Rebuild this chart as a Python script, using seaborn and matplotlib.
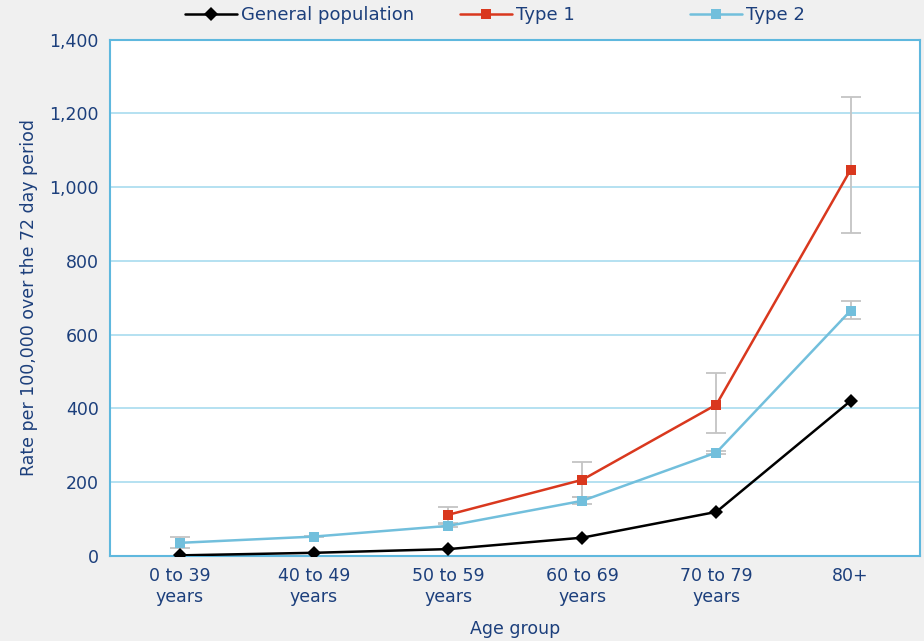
import numpy as np
import pandas as pd
import matplotlib
matplotlib.use("Agg")
import matplotlib.pyplot as plt
import seaborn as sns
from matplotlib.ticker import FuncFormatter
from matplotlib.lines import Line2D

age_groups = ["0 to 39\nyears", "40 to 49\nyears", "50 to 59\nyears",
              "60 to 69\nyears", "70 to 79\nyears", "80+"]
general = [1, 8, 18, 49, 119, 420]
type1 = [np.nan, np.nan, 111, 206, 410, 1047]
type1_low = [np.nan, np.nan, 90, 160, 334, 877]
type1_high = [np.nan, np.nan, 133, 253, 497, 1246]
type2 = [35, 52, 81, 149, 280, 665]
type2_low = [22, 50, 77, 140, 277, 643]
type2_high = [50, 54, 85, 160, 283, 690]

series_names = ["General population", "Type 1", "Type 2"]
colors = {"General population": "#000000", "Type 1": "#d9381e", "Type 2": "#72bfdc"}
markers = {"General population": "D", "Type 1": "s", "Type 2": "s"}
text_col = "#1c3f7c"
grid_col = "#a8dcef"

x = list(range(len(age_groups)))
df = pd.DataFrame({
    "x": x * 3,
    "rate": general + type1 + type2,
    "series": [s for s in series_names for _ in x],
})
df = df.dropna()

sns.set_style("white")
plt.rcParams["font.family"] = ["DejaVu Sans"]

fig = plt.figure(figsize=(9.24, 6.41), dpi=100, facecolor="#f0f0f0")
ax = fig.add_axes([0.119, 0.133, 0.877, 0.805])
ax.set_facecolor("white")

# error bars behind the lines
for vals, lo, hi in [(type1, type1_low, type1_high), (type2, type2_low, type2_high)]:
    v = np.array(vals, dtype=float)
    err = np.array([v - np.array(lo, dtype=float), np.array(hi, dtype=float) - v])
    ax.errorbar(x, v, yerr=err, fmt="none", ecolor="#c4c4c4", elinewidth=1.3,
                capsize=7, capthick=1.3, zorder=1)

sns.lineplot(data=df, x="x", y="rate", hue="series", style="series",
             markers=markers, dashes=False, palette=colors, linewidth=1.8,
             markersize=7, markeredgewidth=0, ax=ax, zorder=3, legend=False)

ax.set_xlim(-0.52, 5.52)
ax.set_ylim(0, 1400)
ax.set_yticks(range(0, 1401, 200))
ax.yaxis.set_major_formatter(FuncFormatter(lambda v, p: f"{int(v):,}"))
ax.set_xticks(x)
ax.set_xticklabels(age_groups)
ax.grid(axis="y", color=grid_col, linewidth=1.2)
ax.set_axisbelow(True)
for sp in ax.spines.values():
    sp.set_color("#5fb8de")
    sp.set_linewidth(1.5)
ax.tick_params(axis="both", colors=text_col, labelsize=12.5, length=0, pad=8)
ax.set_xlabel("Age group", color=text_col, fontsize=12.5, labelpad=10)
ax.set_ylabel("Rate per 100,000 over the 72 day period", color=text_col,
              fontsize=12.5, labelpad=8)

# one legend per entry so the spacing can follow the reference
legend_x = [185 / 924, 460 / 924, 690 / 924]
for s, lx in zip(series_names, legend_x):
    h = Line2D([0], [0], color=colors[s], marker=markers[s], markersize=7,
               markeredgewidth=0, linewidth=1.8)
    fig.legend([h], [s], loc="upper left", bbox_to_anchor=(lx, 0.99),
               frameon=False, fontsize=13, handlelength=2.9, borderpad=0,
               borderaxespad=0, labelcolor=text_col, handletextpad=0.2)

fig.savefig("out.png", dpi=100, facecolor=fig.get_facecolor())
